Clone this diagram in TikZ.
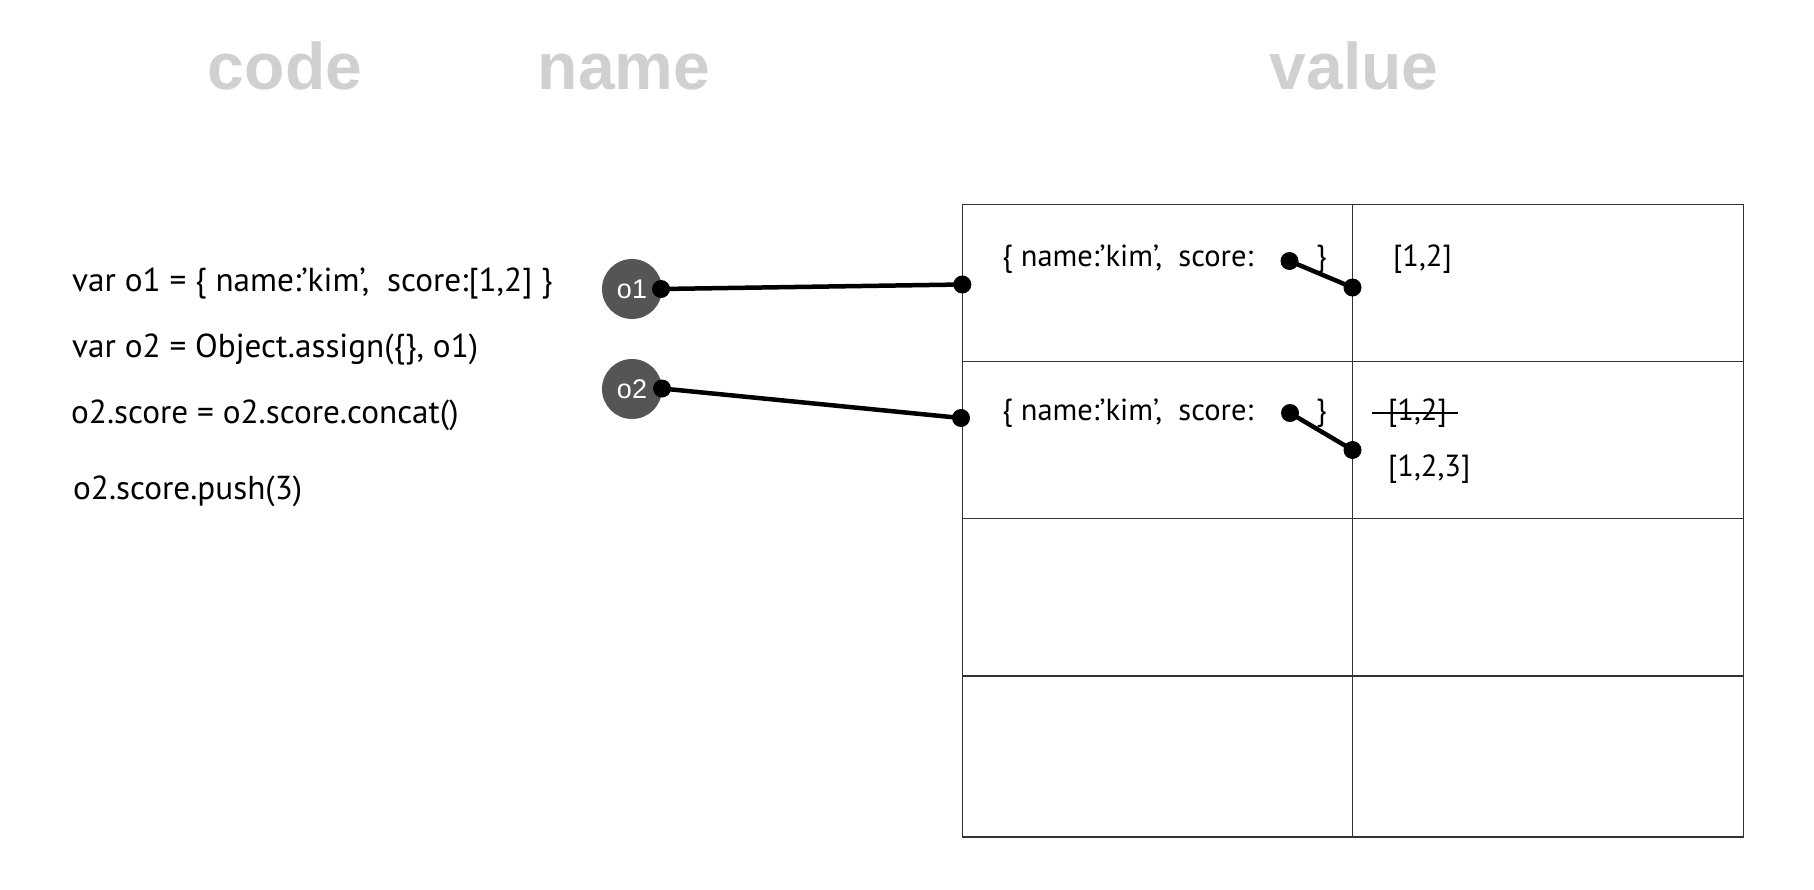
\documentclass[tikz,border=0pt]{standalone}
\usepackage{fontspec}
\setmainfont{PT Sans}
\newfontfamily\headfont{Liberation Sans}
\usepackage{tikz}
\usetikzlibrary{calc}

\definecolor{headgray}{RGB}{208,208,208}
\definecolor{namegray}{RGB}{85,85,85}
\definecolor{gridgray}{RGB}{50,50,50}

\tikzset{
    header/.style={inner sep=0pt, anchor=base, text=headgray, font=\headfont\bfseries\fontsize{66}{72}\selectfont},
    codeline/.style={inner sep=0pt, anchor=base west, font=\fontsize{33.2}{38}\selectfont},
    celltext/.style={inner sep=0pt, anchor=base west, font=\fontsize{30.5}{36}\selectfont},
    varname/.style={circle, fill=namegray, inner sep=0pt, minimum size=60pt, text=white, font=\headfont\fontsize{27}{30}\selectfont},
    refdot/.style={circle, fill=black, inner sep=0pt, minimum size=18pt},
    link/.style={line width=4.5pt, black}
}

\begin{document}
\begin{tikzpicture}[x=1pt, y=-1pt]
        \useasboundingbox (0,0) rectangle (1814,889);

        % column titles
        \node[header] (tcode) at (285,89) {code};
        \node[header] (tname) at (624,89) {name};
        \node[header] (tvalue) at (1354,89) {value};

        % code lines
        \node[codeline] (c1) at (72,291) {var o1 = \{ name:’kim’,\ \ score:[1,2] \}};
        \node[codeline] (c2) at (72,357) {var o2 = Object.assign(\{\}, o1)};
        \node[codeline] (c3) at (71,423) {o2.score = o2.score.concat()};
        \node[codeline] (c4) at (73,499) {o2.score.push(3)};

        % heap table
        \draw[gridgray, line width=1.5pt] (962.5,204.7) rectangle (1743.5,837);
        \foreach \y in {361.7,518.3,676.2} {
            \draw[gridgray, line width=1.5pt] (962.5,\y) -- (1743.5,\y);
        }
        \draw[gridgray, line width=1.5pt] (1352.5,204.7) -- (1352.5,837);

        % objects
        \node[celltext] (obj1) at (1002,266) {\{ name:’kim’,\ \ score:};
        \node[celltext] (close1) at (1316,266) {\}};
        \node[celltext] (obj2) at (1002,420) {\{ name:’kim’,\ \ score:};
        \node[celltext] (close2) at (1316,420) {\}};

        % arrays
        \node[celltext] (arr1) at (1393,266) {[1,2]};
        \node[celltext] (arrold) at (1388,420) {[1,2]};
        \node[celltext] (arr2) at (1388,476) {[1,2,3]};
        \coordinate (strikeL) at (1372,413);
        \coordinate (strikeR) at (1458,413);
        \draw[line width=2pt] (strikeL) -- (strikeR);

        % variable names
        \node[varname] (o1) at (632,289) {o1};
        \node[varname] (o2) at (632,389) {o2};

        % reference dots
        \node[refdot] (o1out) at (661,289) {};
        \node[refdot] (o2out) at (662,388.5) {};
        \node[refdot] (obj1in) at (962.3,284.5) {};
        \node[refdot] (obj2in) at (961,418) {};
        \node[refdot] (score1) at (1289.5,261) {};
        \node[refdot] (score2) at (1290,413) {};
        \node[refdot] (arr1in) at (1352.5,287.5) {};
        \node[refdot] (arr2in) at (1352.5,450) {};

        % references
        \draw[link] (o1out.center) -- (obj1in.center);
        \draw[link] (o2out.center) -- (obj2in.center);
        \draw[link] (score1.center) -- (arr1in.center);
        \draw[link] (score2.center) -- (arr2in.center);

    \end{tikzpicture}
\end{document}
